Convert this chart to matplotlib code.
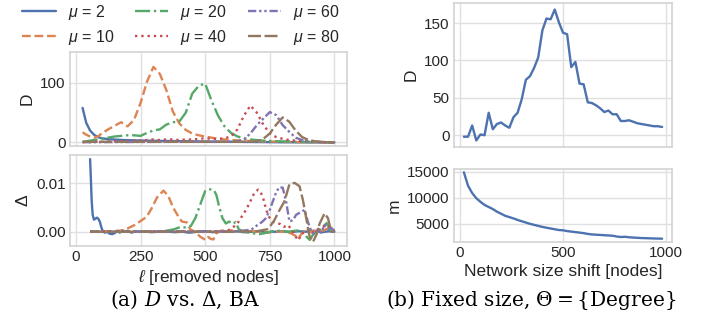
import matplotlib
matplotlib.use("Agg")
import matplotlib.pyplot as plt
import seaborn as sns

sns.set_theme(style="whitegrid")
plt.rcParams["font.family"] = ["Liberation Sans", "DejaVu Sans"]
plt.rcParams["mathtext.fontset"] = "custom"
plt.rcParams["mathtext.rm"] = "Liberation Sans"
plt.rcParams["mathtext.it"] = "Liberation Sans:italic"
plt.rcParams["mathtext.fallback"] = "stixsans"

# ---------------- data: D vs. Delta on BA networks ----------------
mu_labels = [r"$\mu$ = 2", r"$\mu$ = 10", r"$\mu$ = 20",
             r"$\mu$ = 40", r"$\mu$ = 60", r"$\mu$ = 80"]

# removed nodes (upper panel grid)
ell_D = [26, 40, 55, 70, 85, 100, 125, 150, 175, 200, 225, 250, 275, 300,
         325, 350, 375, 400, 425, 450, 475, 500, 525, 550, 575, 600, 625,
         650, 675, 700, 725, 750, 775, 800, 825, 850, 875, 900, 925, 950,
         975, 1000]

D_mu2 = [58, 33, 20, 13, 9, 7, 5.5, 4.8, 4.2, 3.8, 3.5, 3.2, 3.0, 2.8,
         2.6, 2.4, 2.3, 2.1, 2.0, 1.8, 1.7, 1.5, 1.4, 1.3, 1.2, 1.1, 1.0,
         0.9, 0.8, 0.7, 0.6, 0.5, 0.4, 0.3, 0.3, 0.2, 0.2, 0.1, 0.1, 0.1,
         0.0, 0.0]
D_mu10 = [17, 13, 10, 8, 10, 15, 22, 28, 34, 27, 38, 66, 102, 127,
          115, 88, 52, 32, 21, 15, 12, 10, 8, 6, 5, 4, 3.5,
          3, 2.5, 2, 1.8, 1.5, 1.3, 1.0, 0.8, 0.6, 0.5, 0.4, 0.3, 0.2,
          0.1, 0.0]
D_mu20 = [1, 2, 3, 4, 5, 6, 8, 10, 11, 12, 12, 11, 16, 20,
          22, 30, 34, 35, 50, 82, 95, 99, 70, 45, 27, 16, 10,
          7, 5, 4, 3, 2.5, 2, 1.8, 1.5, 1.2, 1.0, 0.8, 0.6, 0.4,
          0.2, 0.0]
D_mu40 = [0.5, 0.5, 0.5, 1, 1, 1, 1.5, 2, 2, 2.5, 3, 3, 4, 5,
          4, 5, 5, 4, 5, 5, 6, 7, 6, 6, 7, 10, 22,
          45, 62, 50, 30, 15, 9, 6, 4, 3, 2, 1.5, 1, 0.6,
          0.3, 0.0]
D_mu60 = [0.5, 0.5, 0.5, 0.5, 0.5, 0.5, 0.6, 0.6, 0.7, 0.7, 0.8, 0.8, 0.8, 0.9,
          0.9, 1, 1, 1, 1, 1, 1, 1, 1, 1, 1, 1.2, 2,
          5, 15, 29, 40, 51, 46, 29, 18, 8, 4, 2, 1, 0.5,
          0.2, 0.0]
D_mu80 = [1, 1, 1, 1, 1, 1, 1, 1, 1, 1, 1, 1, 1, 1,
          1, 1, 1, 1, 1, 1, 1, 1, 1, 1, 1, 1, 1,
          1, 1.2, 2, 6, 15, 30, 42, 35, 20, 9, 4, 2, 1,
          0.5, 0.0]

# Delta (lower panel), each series on its own sampling of removed nodes
ell_d_mu2 = [55, 58, 61, 65, 70, 76, 82, 88, 93, 98, 104, 112, 120, 130, 140,
             150, 160, 170, 180, 190, 200, 215, 230, 250, 270, 290, 320, 350,
             380, 410, 440, 470, 500, 530, 560, 590, 620, 650, 680, 710, 740,
             770, 800, 830, 860, 890, 920, 950, 980, 1000]
d_mu2 = [0.0150, 0.0110, 0.0065, 0.0035, 0.0025, 0.0027, 0.0029, 0.0026,
         0.0020, 0.0010, 0.0001, -0.0002, 0.0, -0.0004, -0.0005, -0.0003,
         0.0002, -0.0002, 0.0003, 0.0, 0.0002, -0.0002, 0.0001, 0.0, 0.0001,
         -0.0001, 0.0, 0.0001, -0.0001, 0.0, -0.0002, 0.0, 0.0001, -0.0001,
         0.0001, 0.0, 0.0001, -0.0001, 0.0, 0.0001, -0.0001, 0.0, 0.0001,
         -0.0001, 0.0001, 0.0, 0.0002, -0.0001, 0.0001, 0.0]

ell_d_mu10 = [55, 100, 150, 183, 205, 228, 250, 274, 295, 313, 339, 358, 377,
              397, 410, 420, 430, 442, 460, 480, 492, 502, 512, 522, 532, 542,
              560, 580, 600, 620, 650, 680, 710, 740, 770, 800, 830, 848, 860,
              872, 885, 900, 920, 940, 960, 980, 990, 1000]
d_mu10 = [0.0, 0.0001, 0.0001, 0.0003, 0.0008, 0.0014, 0.0022, 0.0031,
          0.0050, 0.0070, 0.0085, 0.0073, 0.0049, 0.0031, 0.0021, 0.0020,
          0.0019, 0.0005, 0.0, -0.0010, -0.0014, -0.0017, -0.0011, -0.0015,
          -0.0016, -0.0004, 0.0002, 0.0, 0.0003, -0.0001, 0.0002, 0.0001,
          0.0, -0.0002, 0.0001, 0.0, -0.0003, -0.0008, -0.0014, -0.0005,
          0.0001, -0.0002, 0.0002, 0.0, 0.0003, 0.0008, 0.0005, 0.0002]

ell_d_mu20 = [55, 150, 250, 300, 350, 380, 395, 410, 429, 445, 462, 481, 500,
              515, 534, 544, 554, 567, 580, 593, 606, 618, 630, 650, 680, 710,
              730, 760, 790, 820, 850, 870, 885, 895, 905, 915, 930, 945, 960,
              970, 980, 990, 1000]
d_mu20 = [0.0, 0.0, 0.0, 0.0, 0.0002, 0.0005, 0.0008, 0.0010, 0.0008,
          0.0012, 0.0028, 0.0056, 0.0084, 0.0088, 0.0086, 0.0075, 0.0052,
          0.0028, 0.0017, 0.0021, 0.0016, 0.0020, 0.0005, 0.0, -0.0003,
          -0.0005, -0.0003, 0.0001, 0.0002, 0.0, 0.0002, 0.0003, -0.0005,
          -0.0012, -0.0017, -0.0008, 0.0, 0.0005, 0.0012, 0.0018, 0.0008,
          -0.0003, 0.0]

ell_d_mu40 = [55, 150, 250, 350, 450, 550, 590, 610, 625, 640, 658, 675, 690,
              705, 715, 725, 735, 745, 760, 775, 790, 805, 820, 835, 850, 860,
              870, 885, 900, 915, 930, 945, 960, 975, 985, 1000]
d_mu40 = [0.0, 0.0001, 0.0, 0.0001, 0.0, 0.0001, 0.0003, 0.0010, 0.0017,
          0.0030, 0.0045, 0.0063, 0.0080, 0.0087, 0.0082, 0.0068, 0.0048,
          0.0032, 0.0021, 0.0018, 0.0016, 0.0010, 0.0014, 0.0004, -0.0010,
          -0.0018, -0.0008, 0.0002, 0.0005, -0.0002, 0.0003, 0.0008, 0.0011,
          0.0014, 0.0008, 0.0002]

ell_d_mu60 = [55, 200, 400, 600, 650, 680, 703, 720, 735, 750, 762, 775, 787,
              800, 813, 826, 840, 852, 868, 885, 897, 911, 922, 935, 948, 962,
              975, 988, 1000]
d_mu60 = [0.0, 0.0, 0.0001, 0.0, 0.0002, 0.0005, 0.0014, 0.0020, 0.0028,
          0.0045, 0.0063, 0.0082, 0.0092, 0.0091, 0.0063, 0.0021, 0.0024,
          0.0035, 0.0040, 0.0045, 0.0021, 0.0, -0.0006, 0.0004, -0.0002,
          0.0014, 0.0006, 0.0008, 0.0]

ell_d_mu80 = [55, 300, 600, 700, 740, 755, 768, 785, 807, 826, 846, 865, 878,
              891, 904, 917, 930, 943, 962, 975, 988, 1000]
d_mu80 = [0.0, 0.0, 0.0, 0.0001, 0.0005, 0.0014, 0.0024, 0.0042, 0.0063,
          0.0098, 0.0101, 0.0094, 0.0066, 0.0028, -0.0010, -0.0021, -0.0007,
          0.0017, 0.0038, 0.0028, 0.0, 0.0]

# ---------------- data: fixed size, Theta = {Degree} ----------------
size_shift = [20, 40, 60, 80, 100, 120, 140, 160, 180, 200, 220, 240, 260,
              280, 300, 320, 340, 360, 380, 400, 420, 440, 460, 480, 500, 520,
              540, 560, 580, 600, 620, 640, 660, 680, 700, 720, 740, 760, 780,
              800, 820, 840, 860, 880, 900, 920, 940, 960, 980]
D_fixed = [-2, -2, 13, -7, 1, 0, 30, 8, 15, 17, 13, 10, 24, 30, 48, 74, 79,
           90, 104, 140, 156, 155, 168, 151, 137, 135, 91, 98, 69, 68, 44,
           43, 40, 36, 31, 33, 28, 28, 19, 19, 20, 18, 16, 15, 14, 13, 12,
           12, 11]
m_fixed = [14900, 12300, 10900, 9900, 9200, 8600, 8200, 7800, 7300, 6900,
           6500, 6250, 6000, 5700, 5450, 5200, 4950, 4750, 4550, 4350, 4200,
           4050, 3900, 3750, 3700, 3550, 3450, 3350, 3250, 3150, 3000, 2900,
           2850, 2800, 2750, 2700, 2650, 2500, 2400, 2450, 2350, 2300, 2250,
           2200, 2180, 2150, 2120, 2100, 2080]

# ---------------- styling ----------------
palette = sns.color_palette("deep")
styles = ["-", (0, (3.7, 1.6)), (0, (6.4, 1.6, 1, 1.6)), (0, (1, 1.65)),
          (0, (3.5, 1.2, 1, 1.2, 1, 1.2)), (0, (5.5, 1.5))]
lw = 1.7
tick_fs = 11
label_fs = 12.5

W, H = 708, 321
fig = plt.figure(figsize=(W / 100, H / 100), dpi=100)


def px_axes(x0, y0, x1, y1, **kw):
    return fig.add_axes([x0 / W, 1 - y1 / H, (x1 - x0) / W, (y1 - y0) / H], **kw)


ax_D = px_axes(70, 52, 347, 146)
ax_d = px_axes(70, 155, 347, 246, sharex=ax_D)
ax_R1 = px_axes(454, 3, 672, 147)
ax_R2 = px_axes(454, 169, 672, 242, sharex=ax_R1)

D_series = [D_mu2, D_mu10, D_mu20, D_mu40, D_mu60, D_mu80]
for i, ys in enumerate(D_series):
    ax_D.plot(ell_D, ys, color=palette[i], linestyle=styles[i], lw=lw,
              label=mu_labels[i])

d_series = [(ell_d_mu2, d_mu2), (ell_d_mu10, d_mu10), (ell_d_mu20, d_mu20),
            (ell_d_mu40, d_mu40), (ell_d_mu60, d_mu60), (ell_d_mu80, d_mu80)]
for i, (xs, ys) in enumerate(d_series):
    ax_d.plot(xs, ys, color=palette[i], linestyle=styles[i], lw=lw)

ax_D.set_ylim(-6, 152)
ax_D.set_yticks([0, 100])
ax_D.set_xticks([0, 250, 500, 750, 1000])
ax_D.tick_params(labelbottom=False)
ax_D.set_ylabel("D", fontsize=label_fs)

ax_d.set_yticks([0.0, 0.01])
ax_d.set_yticklabels(["0.00", "0.01"])
ax_d.set_ylabel(r"$\Delta$", fontsize=label_fs)
ax_d.set_xlabel(r"$\ell$ [removed nodes]", fontsize=label_fs, labelpad=3)

ax_R1.plot(size_shift, D_fixed, color=palette[0], lw=lw)
ax_R1.set_yticks([0, 50, 100, 150])
ax_R1.set_ylabel("D", fontsize=label_fs)
ax_R1.tick_params(labelbottom=False)

ax_R2.plot(size_shift, m_fixed, color=palette[0], lw=lw)
ax_R2.set_yticks([5000, 10000, 15000])
ax_R2.set_xticks([0, 500, 1000])
ax_R2.set_ylabel("m", fontsize=label_fs)
ax_R2.set_xlabel("Network size shift [nodes]", fontsize=label_fs, labelpad=3)

for ax in (ax_D, ax_d, ax_R1, ax_R2):
    ax.tick_params(labelsize=tick_fs, pad=3, length=0, colors="#262626")
    for sp in ax.spines.values():
        sp.set_color("#d3d3d3")
        sp.set_linewidth(1.2)
    ax.grid(True, color="#e0e0e0", lw=1.0)

fig.legend(*ax_D.get_legend_handles_labels(), loc="upper left",
           bbox_to_anchor=(22 / W, 1 - 3 / H), ncol=3, frameon=False,
           fontsize=11.5, borderpad=0, borderaxespad=0, handlelength=2.1,
           handletextpad=0.75, columnspacing=1.3, labelspacing=0.35)

fig.text(185 / W, 1 - 300 / H, r"(a) $D$ vs. $\Delta$, BA", ha="center",
         va="center", fontsize=14.5, family="DejaVu Serif",
         math_fontfamily="dejavuserif", color="black")
fig.text(531 / W, 1 - 300 / H, r"(b) Fixed size, $\Theta = \{$Degree$\}$",
         ha="center", va="center", fontsize=14.5, family="DejaVu Serif",
         math_fontfamily="dejavuserif", color="black")

fig.savefig("out.png", dpi=100)
